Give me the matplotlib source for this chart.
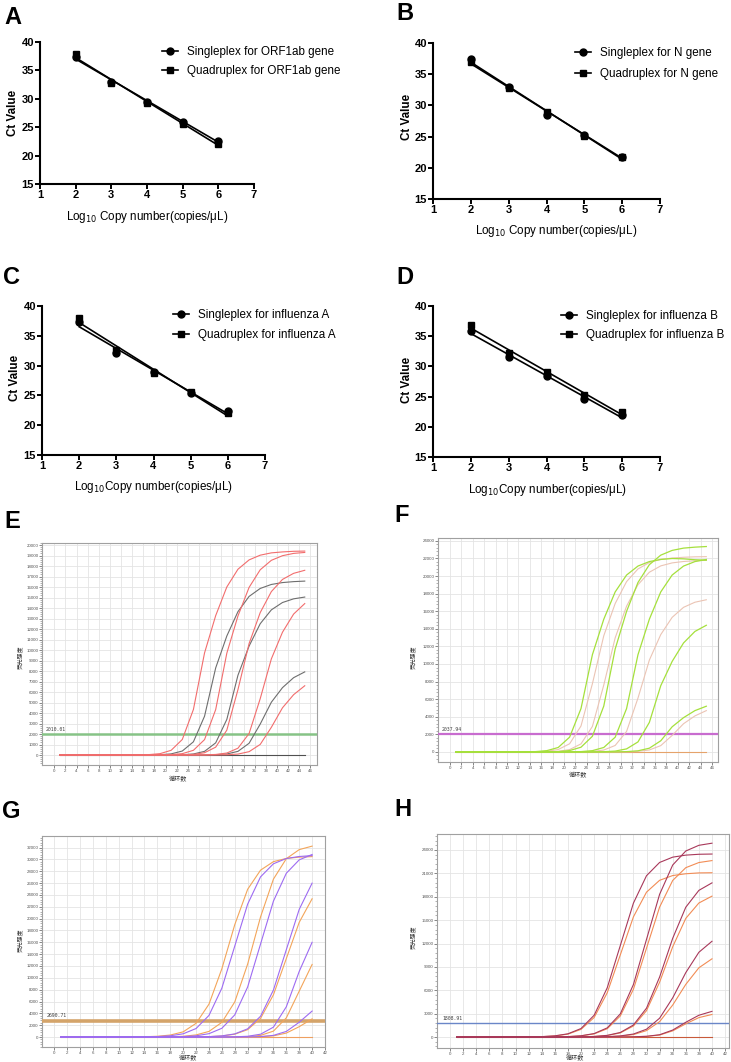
import numpy as np
import matplotlib
matplotlib.use("Agg")
import matplotlib.pyplot as plt
from matplotlib.ticker import AutoMinorLocator
from matplotlib.lines import Line2D

W, H = 731, 1062
plt.rcParams['font.family'] = ['Liberation Sans', 'DejaVu Sans']
CJK = ['Noto Sans CJK SC', 'DejaVu Sans']

# ---- standard curves (A-D) ----
log_copies = [2, 3, 4, 5, 6]
A_single = [37.4, 33.0, 29.4, 26.0, 22.6]
A_quad = [37.8, 32.8, 29.3, 25.6, 22.1]
B_single = [37.4, 32.9, 28.4, 25.2, 21.8]
B_quad = [36.9, 32.8, 28.9, 25.1, 21.8]
C_single = [37.3, 32.1, 28.9, 25.4, 22.4]
C_quad = [38.0, 32.7, 28.7, 25.5, 22.0]
D_single = [35.9, 31.5, 28.4, 24.6, 21.9]
D_quad = [36.9, 32.2, 29.0, 25.3, 22.4]

# ---- amplification curves (E-H), fluorescence read at each listed cycle ----
EF_cycles = [1, 15, 17, 19, 21, 23, 25, 27, 29, 31, 33, 35, 37, 39, 41, 43, 45]
GH_cycles = [1, 14, 16, 18, 20, 22, 24, 26, 28, 30, 32, 34, 36, 38, 40]

E_red = [
    [0, 10, 40, 130, 450, 1480, 4340, 9730, 13280, 16010, 17700, 18590, 19040, 19260, 19350, 19410, 19430],
    [0, 0, 0, 10, 40, 130, 450, 1470, 4330, 9700, 13250, 15970, 17650, 18550, 18990, 19210, 19300],
    [0, 0, 0, 0, 0, 20, 60, 220, 750, 2370, 6230, 10620, 13570, 15570, 16730, 17310, 17600],
    [0, 0, 0, 0, 0, 0, 0, 15, 55, 190, 650, 2050, 5370, 9160, 11700, 13430, 14430],
    [0, 0, 0, 0, 0, 0, 0, 0, 10, 30, 90, 320, 1010, 2640, 4500, 5750, 6600],
]
E_gray = [
    [0, 0, 10, 30, 110, 380, 1260, 3700, 8300, 11340, 13660, 15110, 15870, 16250, 16430, 16520, 16570],
    [0, 0, 0, 0, 10, 30, 100, 350, 1160, 3390, 7600, 10380, 12510, 13830, 14530, 14880, 15050],
    [0, 0, 0, 0, 0, 0, 0, 10, 30, 100, 350, 1120, 2950, 5030, 6420, 7370, 7920],
]
F_green = [
    [0, 40, 150, 510, 1680, 4930, 11050, 15090, 18190, 20110, 21130, 21640, 21880, 21990, 21950, 21850, 21800],
    [0, 0, 10, 40, 160, 540, 1780, 5220, 11700, 15980, 19260, 21290, 22370, 22910, 23170, 23280, 23350],
    [0, 0, 0, 0, 10, 40, 150, 510, 1680, 4930, 11050, 15090, 18190, 20110, 21130, 21640, 21880],
    [0, 0, 0, 0, 0, 0, 10, 30, 100, 350, 1140, 3360, 7530, 10290, 12390, 13700, 14400],
    [0, 0, 0, 0, 0, 0, 0, 0, 10, 40, 130, 430, 1270, 2860, 3900, 4700, 5200],
]
F_pale = [
    [0, 20, 80, 280, 930, 2950, 7750, 13210, 16870, 19360, 20800, 21530, 21890, 22040, 22130, 22180, 22200],
    [0, 10, 20, 80, 270, 920, 2900, 7610, 12970, 16570, 19010, 20430, 21150, 21490, 21650, 21730, 21780],
    [0, 0, 0, 0, 0, 20, 60, 220, 740, 2330, 6120, 10440, 13340, 15300, 16440, 17020, 17300],
    [0, 0, 0, 0, 0, 0, 0, 0, 10, 20, 70, 230, 720, 1880, 3210, 4100, 4700],
]
G_orange = [
    [0, 50, 130, 340, 880, 2320, 5550, 11530, 18970, 24950, 28180, 29620, 30160, 30380, 30470],
    [0, 0, 20, 50, 130, 360, 950, 2480, 5930, 12320, 20280, 26670, 30120, 31650, 32240],
    [0, 0, 0, 0, 0, 20, 70, 180, 480, 1250, 3150, 7130, 13250, 19370, 23350],
    [0, 0, 0, 0, 0, 0, 0, 0, 20, 75, 280, 1000, 3240, 7750, 12260],
    [0, 0, 0, 0, 0, 0, 0, 0, 0, 15, 55, 200, 670, 1750, 3070],
]
G_purple = [
    [0, 30, 80, 210, 550, 1440, 3650, 8260, 15350, 22440, 27050, 29260, 30150, 30490, 30640],
    [0, 0, 10, 30, 80, 210, 570, 1480, 3740, 8450, 15700, 22950, 27660, 29920, 30830],
    [0, 0, 0, 0, 0, 30, 70, 200, 530, 1390, 3510, 7940, 14750, 21560, 25990],
    [0, 0, 0, 0, 0, 0, 0, 10, 40, 130, 480, 1670, 5110, 11080, 16000],
    [0, 0, 0, 0, 0, 0, 0, 0, 0, 20, 78, 285, 950, 2500, 4390],
]
H_maroon = [
    [0, 60, 160, 420, 1100, 2800, 6320, 11750, 17180, 20700, 22400, 23080, 23340, 23450, 23480],
    [0, 10, 20, 60, 170, 450, 1180, 2980, 6740, 12530, 18310, 22070, 23870, 24600, 24870],
    [0, 0, 0, 10, 30, 80, 220, 590, 1550, 3710, 7700, 12670, 16660, 18820, 19780],
    [0, 0, 0, 0, 10, 20, 50, 150, 390, 1010, 2420, 5030, 8270, 10880, 12290],
    [0, 0, 0, 0, 0, 0, 10, 20, 40, 100, 300, 900, 1900, 2800, 3300],
]
H_orange = [
    [0, 50, 140, 380, 990, 2510, 5680, 10550, 15420, 18590, 20110, 20720, 20950, 21060, 21080],
    [0, 10, 20, 60, 150, 410, 1070, 2710, 6130, 11400, 16670, 20090, 21730, 22390, 22640],
    [0, 0, 0, 10, 30, 80, 200, 540, 1420, 3390, 7040, 11580, 15230, 17200, 18080],
    [0, 0, 0, 0, 10, 20, 40, 120, 320, 830, 1980, 4110, 6760, 8890, 10040],
    [0, 0, 0, 0, 0, 0, 10, 20, 40, 90, 260, 800, 1700, 2500, 2900],
]
thresholds = {'E': 2010.01, 'F': 2037.94, 'G': 2690.71, 'H': 1808.91}

fig = plt.figure(figsize=(W / 100, H / 100), dpi=100)


def box(l, t, r, b):
    return fig.add_axes([l / W, 1 - b / H, (r - l) / W, (b - t) / H])


def ftext(x, y, s, **kw):
    fig.text(x / W, 1 - y / H, s, **kw)


def std_panel(rect, single, quad, names, leg_xy, leg_sp, ylab_xy, xlab, xlab_xy):
    ax = box(*rect)
    handles = []
    for ys, mk, name in ((single, 'o', names[0]), (quad, 's', names[1])):
        k, b0 = np.polyfit(log_copies, ys, 1)
        xx = np.array([log_copies[0], log_copies[-1]])
        ax.plot(xx, k * xx + b0, color='black', lw=1.2, zorder=2)
        ax.plot(log_copies, ys, ls='none', marker=mk, color='black', ms=5, zorder=3)
        handles.append(Line2D([], [], color='black', marker=mk, ms=5, lw=1.2, label=name))
    ax.set_xlim(1, 7)
    ax.set_ylim(15, 40)
    ax.set_xticks(range(1, 8))
    ax.set_yticks(range(15, 41, 5))
    for s in ('top', 'right'):
        ax.spines[s].set_visible(False)
    for s in ('left', 'bottom'):
        ax.spines[s].set_linewidth(1.5)
    ax.tick_params(length=3.5, width=1.4, pad=0.8, labelsize=8)
    for lab in ax.get_xticklabels() + ax.get_yticklabels():
        lab.set_fontweight('bold')
    ax.legend(handles=handles, loc='upper left', frameon=False, fontsize=8.4,
              bbox_to_anchor=(leg_xy[0] / W, 1 - leg_xy[1] / H), bbox_transform=fig.transFigure,
              borderpad=0, borderaxespad=0, handlelength=1.35, handletextpad=0.8,
              labelspacing=leg_sp)
    ftext(ylab_xy[0], ylab_xy[1], 'Ct Value', rotation=90, ha='center', va='center',
          fontsize=8.4, fontweight='bold')
    ftext(xlab_xy[0], xlab_xy[1], xlab, ha='center', va='center', fontsize=8.4)


std_panel((40, 42, 254, 184), A_single, A_quad,
          ('Singleplex for ORF1ab gene', 'Quadruplex for ORF1ab gene'),
          (162, 46), 0.6, (13, 113), 'Log$_{10}$ Copy number(copies/μL)', (147, 217))
std_panel((433, 43, 660, 199), B_single, B_quad,
          ('Singleplex for N gene', 'Quadruplex for N gene'),
          (575, 47), 0.8, (407, 117), 'Log$_{10}$ Copy number(copies/μL)', (556, 231))
std_panel((42, 306, 265, 455), C_single, C_quad,
          ('Singleplex for influenza A', 'Quadruplex for influenza A'),
          (173, 309), 0.7, (15, 378), 'Log$_{10}$Copy number(copies/μL)', (154, 487))
std_panel((433, 306, 660, 457), D_single, D_quad,
          ('Singleplex for influenza B', 'Quadruplex for influenza B'),
          (561, 310), 0.62, (407, 380), 'Log$_{10}$Copy number(copies/μL)', (548, 490))


def amp_panel(rect, xlim, ylim, yticks, xticks, cycles, groups, flat_color, thr, thr_color,
              thr_lw, thr_xy, ylab_xy, xlab_xy):
    ax = box(*rect)
    ax.set_xlim(*xlim)
    ax.set_ylim(*ylim)
    ax.set_xticks(xticks)
    ax.set_yticks(yticks)
    ax.yaxis.set_minor_locator(AutoMinorLocator(5))
    ax.grid(True, color='#e4e4e4', lw=0.6, zorder=0)
    for s in ax.spines.values():
        s.set_color('#a0a0a0')
        s.set_linewidth(0.8)
    ax.tick_params(labelsize=3.2, length=2, width=0.5, pad=0.6, colors='#555555')
    ax.tick_params(which='minor', length=1.2, width=0.4, colors='#777777')
    ax.axhline(thr, color=thr_color, lw=thr_lw, zorder=3)
    ax.plot([cycles[0], cycles[-1]], [0, 0], color=flat_color, lw=0.8, zorder=2)
    for series, color, lw, alpha in groups:
        for ys in series:
            ax.plot(cycles, ys, color=color, lw=lw, alpha=alpha, zorder=4)
    ftext(thr_xy[0], thr_xy[1], '%.2f' % thr, fontsize=3.5, color='#444444',
          ha='left', va='bottom', family='DejaVu Sans Mono')
    ftext(ylab_xy[0], ylab_xy[1], '荧光强度', rotation=90, ha='center', va='center',
          fontsize=4.2, color='#333333', family=CJK)
    ftext(xlab_xy[0], xlab_xy[1], '循环数', ha='center', va='center',
          fontsize=4.4, color='#333333', family=CJK)


amp_panel((42, 543, 317, 765), (-2.2, 47.2), (-950, 20200), range(0, 20001, 1000),
          range(0, 47, 2), EF_cycles,
          [(E_gray, '#6e6e6e', 0.8, 1), (E_red, '#f26d6d', 0.8, 1)],
          '#505050', thresholds['E'], '#86c386', 1.8, (46, 732), (20, 657), (178, 779))
amp_panel((438, 538, 718, 762), (-2.1, 47.05), (-1140, 24320), range(0, 24001, 2000),
          range(0, 47, 2), EF_cycles,
          [(F_pale, '#ebc4b4', 0.8, 1), (F_green, '#a5e03c', 0.9, 1)],
          '#e5a36b', thresholds['F'], '#c86ccf', 1.6, (442, 732), (413, 657), (578, 775))
amp_panel((42, 836, 325, 1047), (-1.9, 42.0), (-1680, 33950), range(0, 32001, 2000),
          range(0, 43, 2), GH_cycles,
          [(G_orange, '#f3a55a', 0.8, 1), (G_purple, '#9d6bf2', 0.8, 1)],
          '#eea060', thresholds['G'], '#d4a46a', 2.6, (47, 1018), (20, 940), (188, 1058.5))
amp_panel((437, 834, 729, 1048), (-2.0, 42.6), (-1400, 26050), range(0, 24001, 3000),
          range(0, 43, 2), GH_cycles,
          [(H_orange, '#f28c55', 0.8, 1), (H_maroon, '#a8385a', 0.8, 1)],
          '#c85a3a', thresholds['H'], '#6a86c8', 1.0, (442, 1021), (413, 937), (575, 1058.5))

for letter, x, y in (('A', 4, 17), ('B', 396, 14), ('C', 3, 277), ('D', 396, 277),
                     ('E', 4, 522), ('F', 394, 516), ('G', 2, 812), ('H', 394, 810)):
    ftext(x, y, letter, fontsize=17, fontweight='bold', ha='left', va='center')

fig.savefig('out.png', dpi=100)
